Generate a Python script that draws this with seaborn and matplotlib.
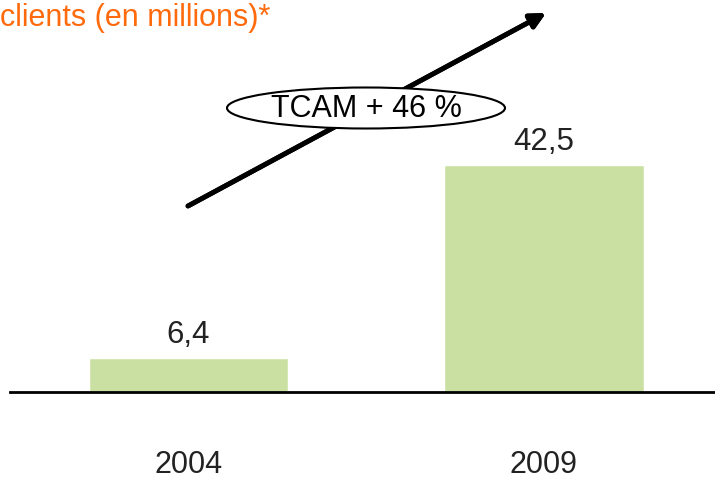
import matplotlib
matplotlib.use("Agg")
import matplotlib.pyplot as plt
import seaborn as sns
from matplotlib.patches import Ellipse

years = ["2004", "2009"]
clients = [6.4, 42.5]
value_labels = ["6,4", "42,5"]
title = "clients (en millions)*"
growth_label = "TCAM + 46 %"

W, H = 715, 480


def fx(px):
    return px / W


def fy(py):
    return 1 - py / H


def main():
    sns.set_style("white")
    plt.rcParams['font.family'] = ['Liberation Sans', 'DejaVu Sans']

    fig = plt.figure(figsize=(W / 100, H / 100), dpi=100)
    # axes: baseline at y=392 px, from x=10 to right edge
    ax = fig.add_axes([fx(10), fy(392), fx(705), 392 / H])
    sns.barplot(x=years, y=clients, color="#c9e0a2", saturation=1,
                width=0.56, ax=ax)
    ax.set_xlim(-0.502, 1.481)
    ax.set_ylim(0, 73.5)
    for s in ["top", "right", "left"]:
        ax.spines[s].set_visible(False)
    ax.spines["bottom"].set_color("black")
    ax.spines["bottom"].set_linewidth(2)
    ax.set_yticks([])
    ax.set_xticks([])
    ax.set_xlabel("")
    ax.set_ylabel("")

    for i, (v, lab) in enumerate(zip(clients, value_labels)):
        ax.annotate(lab, (i, v), xytext=(0, 6), textcoords="offset points",
                    ha="center", va="bottom", fontsize=22.5, color="#222222")
        # year label below the baseline, placed via the data x position
        xd = ax.transData.transform((i, 0))[0]
        fig.text(xd / W, fy(465), years[i], ha="center", va="center",
                 fontsize=22, color="#222222")

    fig.text(fx(0), fy(18), title, ha="left", va="center",
             fontsize=22, color="#ff6a0d")

    # growth arrow
    fig.add_artist(plt.annotate(
        "", xy=(fx(546), fy(13)), xytext=(fx(188), fy(206)),
        xycoords="figure fraction", textcoords="figure fraction",
        arrowprops=dict(arrowstyle="-|>,head_length=0.9,head_width=0.45",
                        color="black", lw=3.5, shrinkA=0, shrinkB=0)))

    ell = Ellipse((fx(366), fy(108)), fx(278), 41 / H, transform=fig.transFigure,
                  facecolor="white", edgecolor="black", lw=1.5, zorder=5)
    fig.add_artist(ell)
    fig.text(fx(366), fy(109), growth_label, ha="center", va="center",
             fontsize=22, color="black", zorder=6)

    fig.savefig("out.png", dpi=100)


if __name__ == "__main__":
    main()
